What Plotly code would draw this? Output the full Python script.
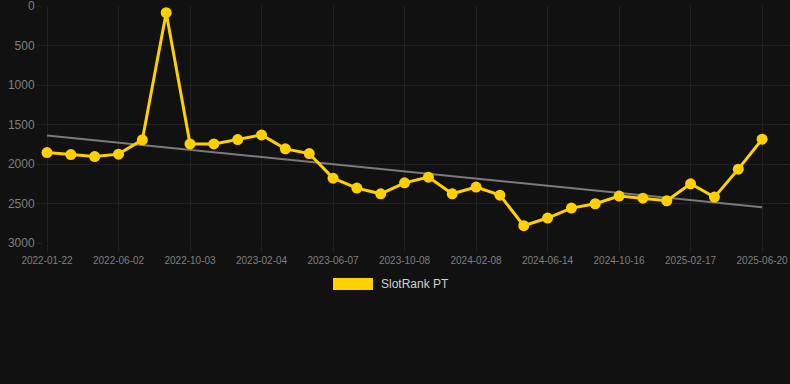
import plotly.graph_objects as go

dates = ["2022-01-22", "2022-03-06", "2022-04-19", "2022-06-02", "2022-07-13", "2022-08-23",
         "2022-10-03", "2022-11-13", "2022-12-25", "2023-02-04", "2023-03-18", "2023-04-27",
         "2023-06-07", "2023-07-18", "2023-08-28", "2023-10-08", "2023-11-18", "2023-12-29",
         "2024-02-08", "2024-03-21", "2024-05-03", "2024-06-14", "2024-07-25", "2024-09-04",
         "2024-10-16", "2024-11-26", "2025-01-06", "2025-02-17", "2025-03-30", "2025-05-10",
         "2025-06-20"]
rank = [1855, 1880, 1905, 1875, 1694, 84, 1745, 1745, 1690, 1631, 1808, 1867, 2179, 2305,
        2377, 2238, 2166, 2377, 2292, 2394, 2781, 2684, 2558, 2503, 2406, 2432, 2465, 2250,
        2419, 2065, 1686]
trend_ends = [1640, 2548]
tick_labels = dates[::3]
y_ticks = [0, 500, 1000, 1500, 2000, 2500, 3000]
series_name = "SlotRank PT"

BG = "#111111"
GOLD = "#FFD000"
GRID = "#212121"
TICKC = "#7f7f7f"

fig = go.Figure()
fig.add_trace(go.Scatter(x=[dates[0], dates[-1]], y=trend_ends, mode="lines",
                         line=dict(color="#7a7a7a", width=2), showlegend=False, hoverinfo="skip"))
fig.add_trace(go.Scatter(x=dates, y=rank, mode="lines+markers", name=series_name,
                         line=dict(color=GOLD, width=3),
                         marker=dict(color=GOLD, size=11), showlegend=False, cliponaxis=False))

fig.update_layout(
    width=790, height=384,
    paper_bgcolor=BG, plot_bgcolor=BG,
    margin=dict(l=43, r=0, t=6, b=141),
    showlegend=False,
    font=dict(family="Liberation Sans, Arial, sans-serif", color=TICKC),
    xaxis=dict(type="category", categoryorder="array", categoryarray=dates,
               range=[-0.168, 31.17], tickmode="array",
               tickvals=tick_labels, ticktext=tick_labels,
               showgrid=True, gridcolor=GRID, gridwidth=1,
               ticks="outside", ticklen=8, tickcolor=GRID,
               tickfont=dict(size=10, color=TICKC), zeroline=False, showline=False),
    yaxis=dict(range=[3000, -1], tickmode="array", tickvals=y_ticks,
               showgrid=True, gridcolor=GRID, gridwidth=1,
               ticks="outside", ticklen=5, tickcolor=GRID, ticklabeloverflow="allow",
               tickfont=dict(size=12, color=TICKC), zeroline=False, showline=False),
)

fig.add_shape(type="rect", xref="paper", yref="paper",
              x0=(333 - 43) / 747, x1=(373 - 43) / 747,
              y0=(384 - 141 - 290) / 237, y1=(384 - 141 - 278) / 237,
              fillcolor=GOLD, line=dict(width=0))
fig.add_annotation(text=series_name, xref="paper", yref="paper",
                   x=(379 - 43) / 747, y=(384 - 141 - 284) / 237,
                   xanchor="left", yanchor="middle", showarrow=False,
                   font=dict(size=12, color="#d0d0d0"))

fig.write_html("out.html", config={"displayModeBar": False},
               post_script="document.body.style.margin='0';document.body.style.background='#111111';")
